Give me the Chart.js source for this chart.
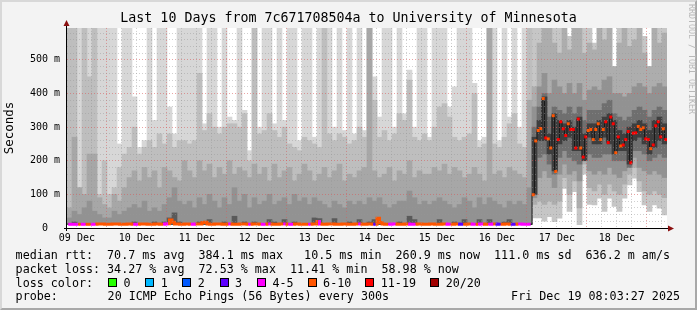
<!DOCTYPE html>
<html>
<head>
<meta charset="utf-8">
<script src="https://cdn.jsdelivr.net/npm/chart.js@4/dist/chart.umd.min.js"></script>
<style>
html,body{margin:0;padding:0;}
body{width:697px;height:310px;overflow:hidden;background:#f3f3f3;position:relative;font-family:'DejaVu Sans Mono',monospace;}
#c{position:absolute;left:0;top:0;}
#frame{position:absolute;left:0;top:0;width:697px;height:310px;box-sizing:border-box;border-style:solid;border-width:2px;border-color:#d8d8d8 #a8a8a8 #a8a8a8 #d8d8d8;pointer-events:none;}
.t{position:absolute;white-space:pre;font-size:11.7px;line-height:14px;color:#000;}
.box{position:absolute;width:7px;height:7px;border:1px solid #000;}
#rrd{position:absolute;left:687px;top:4px;writing-mode:vertical-rl;font-size:8.3px;line-height:9px;color:#b8b8b8;white-space:pre;}
</style>
</head>
<body>
<canvas id="c" width="697" height="310"></canvas>
<div id="frame"></div>
<div id="legend"></div>
<div id="rrd">RRDTOOL / TOBI OETIKER</div>
<script>
// ---------------- data ----------------
const chartTitle = 'Last 10 Days from 7c671708504a to University of Minnesota';
const dayLabels = ['09 Dec','10 Dec','11 Dec','12 Dec','13 Dec','14 Dec','15 Dec','16 Dec','17 Dec','18 Dec'];
const yTickValues = [0, 0.1, 0.2, 0.3, 0.4, 0.5];
const yTickLabels = ['0  ', '100 m', '200 m', '300 m', '400 m', '500 m'];

// smoke bands (seconds), one value per 2-hour column, lightest band A .. darkest band E
const smokeTopA = [
0.6,0.6,0.6,0.6,0.6,0.6,0.6,0.6,0.6,0.6,0.25,0.6,
0.6,0.39,0.24,0.26,0.6,0.32,0.6,0.6,0.36,0.28,0.6,0.6,
0.6,0.6,0.6,0.31,0.6,0.6,0.30,0.6,0.33,0.32,0.6,0.35,
0.23,0.6,0.30,0.6,0.6,0.31,0.6,0.32,0.6,0.6,0.26,0.6,
0.6,0.27,0.6,0.6,0.6,0.30,0.6,0.29,0.6,0.28,0.6,0.29,
0.6,0.45,0.33,0.6,0.6,0.30,0.6,0.34,0.47,0.30,0.6,0.6,
0.27,0.6,0.6,0.6,0.36,0.42,0.6,0.6,0.6,0.43,0.26,0.27,
0.6,0.6,0.26,0.6,0.33,0.6,0.30,0.6,0.6,0.6,0.6,0.6,
0.6,0.6,0.6,0.58,0.57,0.6,0.6,0.6,0.6,0.55,0.6,0.6,
0.6,0.48,0.6,0.6,0.6,0.6,0.6,0.57,0.48,0.6,0.6,0.6];
const smokeTopB = [
0.6,0.6,0.12,0.6,0.45,0.6,0.10,0.20,0.10,0.12,0.18,0.22,
0.24,0.30,0.22,0.24,0.26,0.24,0.28,0.25,0.28,0.24,0.26,0.26,
0.25,0.26,0.46,0.29,0.34,0.30,0.28,0.30,0.31,0.31,0.30,0.34,
0.20,0.6,0.28,0.29,0.34,0.29,0.27,0.30,0.25,0.24,0.23,0.27,
0.26,0.25,0.24,0.6,0.28,0.26,0.28,0.27,0.25,0.26,0.30,0.27,
0.6,0.38,0.27,0.29,0.26,0.28,0.34,0.32,0.44,0.27,0.26,0.28,
0.26,0.30,0.36,0.37,0.33,0.27,0.26,0.27,0.28,0.40,0.24,0.25,
0.6,0.25,0.24,0.27,0.31,0.34,0.25,0.24,0.6,0.42,0.55,0.6,
0.6,0.55,0.52,0.6,0.53,0.6,0.6,0.52,0.55,0.53,0.6,0.56,
0.6,0.48,0.55,0.6,0.54,0.56,0.6,0.52,0.48,0.6,0.55,0.58];
const smokeTopC = [
0.06,0.27,0.12,0.10,0.22,0.22,0.09,0.07,0.06,0.10,0.08,0.12,
0.15,0.17,0.14,0.18,0.15,0.17,0.12,0.18,0.17,0.15,0.14,0.20,
0.17,0.15,0.20,0.17,0.19,0.15,0.18,0.16,0.20,0.16,0.18,0.17,
0.15,0.19,0.16,0.18,0.14,0.19,0.15,0.17,0.18,0.14,0.16,0.19,
0.17,0.14,0.16,0.18,0.15,0.17,0.19,0.14,0.16,0.15,0.17,0.18,
0.6,0.17,0.15,0.16,0.18,0.14,0.17,0.16,0.20,0.15,0.17,0.16,
0.16,0.18,0.17,0.19,0.16,0.18,0.17,0.15,0.16,0.18,0.16,0.14,
0.6,0.16,0.17,0.15,0.18,0.17,0.16,0.15,0.38,0.36,0.42,0.46,
0.40,0.44,0.42,0.40,0.43,0.40,0.43,0.38,0.41,0.42,0.41,0.44,
0.45,0.40,0.40,0.39,0.40,0.42,0.43,0.42,0.40,0.42,0.43,0.42];
const smokeTopD = [
0.03,0.05,0.04,0.06,0.08,0.05,0.04,0.03,0.03,0.05,0.04,0.05,
0.06,0.07,0.06,0.08,0.05,0.06,0.05,0.07,0.09,0.12,0.08,0.07,
0.08,0.06,0.09,0.07,0.10,0.08,0.06,0.09,0.07,0.12,0.08,0.10,
0.06,0.09,0.07,0.08,0.10,0.07,0.08,0.09,0.07,0.10,0.08,0.09,
0.07,0.09,0.08,0.07,0.06,0.08,0.07,0.06,0.08,0.07,0.08,0.07,
0.09,0.08,0.09,0.07,0.06,0.07,0.08,0.08,0.11,0.09,0.07,0.08,
0.07,0.08,0.09,0.08,0.07,0.06,0.07,0.09,0.08,0.06,0.09,0.07,
0.09,0.08,0.07,0.06,0.08,0.07,0.08,0.07,0.12,0.30,0.36,0.40,
0.33,0.36,0.35,0.34,0.36,0.34,0.36,0.32,0.35,0.35,0.35,0.37,
0.38,0.34,0.33,0.32,0.33,0.35,0.36,0.35,0.33,0.35,0.36,0.35];
const smokeTopE = [
0.013,0.018,0.013,0.013,0.013,0.013,0.013,0.013,0.013,0.013,0.013,0.013,
0.013,0.018,0.013,0.013,0.013,0.018,0.013,0.018,0.03,0.045,0.018,0.013,
0.013,0.013,0.018,0.013,0.025,0.013,0.013,0.018,0.013,0.035,0.013,0.018,
0.013,0.018,0.013,0.013,0.025,0.018,0.013,0.025,0.013,0.018,0.013,0.013,
0.013,0.03,0.028,0.013,0.013,0.028,0.013,0.013,0.018,0.013,0.025,0.013,
0.018,0.025,0.018,0.013,0.013,0.013,0.018,0.013,0.035,0.025,0.013,0.013,
0.013,0.013,0.025,0.013,0.013,0.018,0.013,0.025,0.013,0.013,0.025,0.013,
0.025,0.013,0.013,0.018,0.025,0.013,0.013,0.013,0.013,0.27,0.32,0.39,
0.28,0.34,0.32,0.31,0.32,0.30,0.33,0.28,0.31,0.31,0.32,0.33,
0.34,0.32,0.29,0.28,0.30,0.31,0.32,0.31,0.29,0.32,0.33,0.31];
const smokeBotA = [
0.01,0.01,0.01,0.01,0.01,0.01,0.01,0.01,0.01,0.01,0.01,0.01,
0.01,0.01,0.01,0.01,0.01,0.01,0.01,0.01,0.01,0.01,0.01,0.01,
0.01,0.01,0.01,0.01,0.01,0.01,0.01,0.01,0.01,0.01,0.01,0.01,
0.01,0.01,0.01,0.01,0.01,0.01,0.01,0.01,0.01,0.01,0.01,0.01,
0.01,0.01,0.01,0.01,0.01,0.01,0.01,0.01,0.01,0.01,0.01,0.01,
0.01,0.01,0.01,0.01,0.01,0.01,0.01,0.01,0.01,0.01,0.01,0.01,
0.01,0.01,0.01,0.01,0.01,0.01,0.01,0.01,0.01,0.01,0.01,0.01,
0.01,0.01,0.01,0.01,0.01,0.01,0.01,0.01,0.01,0.03,0.03,0.02,
0.034,0.019,0.029,0.118,0.049,0.108,0.01,0.16,0.07,0.069,0.089,0.049,
0.089,0.064,0.049,0.089,0.128,0.148,0.108,0.069,0.049,0.069,0.059,0.039];
const smokeBotB = [
0.01,0.01,0.01,0.01,0.01,0.01,0.01,0.01,0.01,0.01,0.01,0.01,
0.01,0.01,0.01,0.01,0.01,0.01,0.01,0.01,0.01,0.01,0.01,0.01,
0.01,0.01,0.01,0.01,0.01,0.01,0.01,0.01,0.01,0.01,0.01,0.01,
0.01,0.01,0.01,0.01,0.01,0.01,0.01,0.01,0.01,0.01,0.01,0.01,
0.01,0.01,0.01,0.01,0.01,0.01,0.01,0.01,0.01,0.01,0.01,0.01,
0.01,0.01,0.01,0.01,0.01,0.01,0.01,0.01,0.01,0.01,0.01,0.01,
0.01,0.01,0.01,0.01,0.01,0.01,0.01,0.01,0.01,0.01,0.01,0.01,
0.01,0.01,0.01,0.01,0.01,0.01,0.01,0.01,0.01,0.07,0.08,0.07,
0.08,0.07,0.08,0.15,0.10,0.14,0.06,0.19,0.12,0.11,0.13,0.10,
0.13,0.11,0.10,0.13,0.16,0.18,0.14,0.11,0.10,0.11,0.10,0.09];
const smokeBotC = [
0.01,0.01,0.01,0.01,0.01,0.01,0.01,0.01,0.01,0.01,0.01,0.01,
0.01,0.01,0.01,0.01,0.01,0.01,0.01,0.01,0.01,0.01,0.01,0.01,
0.01,0.01,0.01,0.01,0.01,0.01,0.01,0.01,0.01,0.01,0.01,0.01,
0.01,0.01,0.01,0.01,0.01,0.01,0.01,0.01,0.01,0.01,0.01,0.01,
0.01,0.01,0.01,0.01,0.01,0.01,0.01,0.01,0.01,0.01,0.01,0.01,
0.01,0.01,0.01,0.01,0.01,0.01,0.01,0.01,0.01,0.01,0.01,0.01,
0.01,0.01,0.01,0.01,0.01,0.01,0.01,0.01,0.01,0.01,0.01,0.01,
0.01,0.01,0.01,0.01,0.01,0.01,0.01,0.01,0.01,0.09,0.15,0.17,
0.15,0.12,0.16,0.19,0.16,0.17,0.14,0.21,0.17,0.16,0.17,0.16,
0.18,0.16,0.15,0.17,0.19,0.21,0.18,0.17,0.16,0.17,0.16,0.15];
const smokeBotD = [
0.01,0.01,0.01,0.01,0.01,0.01,0.01,0.01,0.01,0.01,0.01,0.01,
0.01,0.01,0.01,0.01,0.01,0.01,0.01,0.01,0.01,0.01,0.01,0.01,
0.01,0.01,0.01,0.01,0.01,0.01,0.01,0.01,0.01,0.01,0.01,0.01,
0.01,0.01,0.01,0.01,0.01,0.01,0.01,0.01,0.01,0.01,0.01,0.01,
0.01,0.01,0.01,0.01,0.01,0.01,0.01,0.01,0.01,0.01,0.01,0.01,
0.01,0.01,0.01,0.01,0.01,0.01,0.01,0.01,0.01,0.01,0.01,0.01,
0.01,0.01,0.01,0.01,0.01,0.01,0.01,0.01,0.01,0.01,0.01,0.01,
0.01,0.01,0.01,0.01,0.01,0.01,0.01,0.01,0.01,0.10,0.21,0.22,
0.19,0.16,0.21,0.23,0.21,0.20,0.19,0.21,0.22,0.21,0.21,0.22,
0.22,0.20,0.20,0.20,0.18,0.23,0.23,0.22,0.20,0.21,0.22,0.21];
const smokeBotE = [
0.01,0.01,0.01,0.01,0.01,0.01,0.01,0.01,0.01,0.01,0.01,0.01,
0.01,0.01,0.01,0.01,0.01,0.01,0.01,0.01,0.01,0.01,0.01,0.01,
0.01,0.01,0.01,0.01,0.01,0.01,0.01,0.01,0.01,0.01,0.01,0.01,
0.01,0.01,0.01,0.01,0.01,0.01,0.01,0.01,0.01,0.01,0.01,0.01,
0.01,0.01,0.01,0.01,0.01,0.01,0.01,0.01,0.01,0.01,0.01,0.01,
0.01,0.01,0.01,0.01,0.01,0.01,0.01,0.01,0.01,0.01,0.01,0.01,
0.01,0.01,0.01,0.01,0.01,0.01,0.01,0.01,0.01,0.01,0.01,0.01,
0.01,0.01,0.01,0.01,0.01,0.01,0.01,0.01,0.01,0.10,0.26,0.26,
0.22,0.17,0.25,0.26,0.27,0.23,0.23,0.20,0.27,0.25,0.25,0.27,
0.25,0.22,0.23,0.23,0.19,0.26,0.27,0.25,0.22,0.24,0.26,0.25];

// median rtt (seconds), one value per hour
const medianRtt = [
0.011,0.011,0.011,0.011,0.011,0.011,0.011,0.011,0.011,0.011,0.011,0.011,0.012,0.012,0.012,0.011,0.011,0.011,0.012,0.012,0.012,0.011,0.011,0.011,
0.012,0.012,0.011,0.011,0.011,0.012,0.012,0.012,0.011,0.011,0.011,0.012,0.012,0.011,0.011,0.012,0.013,0.024,0.017,0.012,0.012,0.011,0.011,0.012,
0.012,0.011,0.011,0.012,0.012,0.012,0.016,0.017,0.012,0.011,0.011,0.012,0.012,0.012,0.011,0.011,0.012,0.012,0.011,0.011,0.011,0.012,0.012,0.012,
0.011,0.011,0.012,0.012,0.012,0.011,0.011,0.011,0.012,0.012,0.011,0.011,0.011,0.012,0.012,0.012,0.011,0.011,0.011,0.012,0.012,0.011,0.011,0.011,
0.011,0.011,0.012,0.012,0.019,0.012,0.011,0.011,0.012,0.012,0.012,0.011,0.011,0.011,0.012,0.012,0.011,0.011,0.011,0.012,0.012,0.012,0.011,0.011,
0.012,0.012,0.011,0.011,0.029,0.016,0.012,0.011,0.011,0.011,0.012,0.012,0.011,0.011,0.011,0.012,0.012,0.011,0.011,0.011,0.012,0.012,0.011,0.011,
0.011,0.012,0.012,0.011,0.011,0.011,0.012,0.012,0.011,0.011,0.011,0.012,0.012,0.011,0.011,0.011,0.012,0.012,0.011,0.011,0.011,0.012,0.012,0.011,
0.011,0.011,0.012,0.012,0.011,0.011,0.011,0.012,0.012,0.011,0.011,0.011,0.012,0.012,0.011,0.011,0.011,0.011,0.099,0.259,0.290,0.296,0.385,0.268,
0.265,0.238,0.334,0.168,0.263,0.316,0.295,0.275,0.310,0.293,0.293,0.238,0.324,0.238,0.211,0.271,0.290,0.293,0.263,0.293,0.310,0.263,0.293,0.316,
0.254,0.330,0.310,0.224,0.271,0.244,0.247,0.263,0.287,0.194,0.282,0.283,0.302,0.293,0.298,0.265,0.263,0.236,0.247,0.304,0.316,0.271,0.295,0.263];

// lost pings out of 20, one value per hour
const lostPings = [
5,5,5,5,7,5,5,7,7,5,5,7,7,7,7,7,7,7,7,7,7,7,7,7,
7,7,5,5,7,7,7,7,7,7,7,7,7,7,5,5,7,7,7,7,7,7,7,7,
7,5,5,7,7,7,7,7,7,7,7,7,7,7,7,7,5,7,7,7,7,7,7,7,
5,7,7,7,7,5,5,7,5,7,7,7,7,7,5,7,5,5,7,7,7,7,7,7,
5,7,7,7,5,7,7,7,7,7,7,7,7,7,7,7,7,7,7,7,5,7,7,7,
7,7,3,7,7,7,7,7,5,5,5,7,7,7,7,7,5,5,5,7,7,7,7,7,
7,7,7,7,7,7,7,5,5,7,7,7,3,3,7,7,7,5,5,7,5,5,7,7,
5,5,7,3,3,7,7,7,7,3,3,7,5,5,5,5,5,7,8,8,8,8,8,12,
8,8,8,8,12,12,12,12,8,12,12,12,12,8,12,12,8,8,8,8,8,8,8,12,
12,12,12,8,12,8,12,12,12,12,12,12,8,8,8,12,12,8,12,12,12,12,8,12];

const lossLegendLabels = ['0','1','2','3','4-5','6-10','11-19','20/20'];
const statsRtt = ['median rtt:', '70.7', '384.1', '10.5', '260.9', '111.0', '636.2'];
const statsLoss = ['packet loss:', '34.27', '72.53', '11.41', '58.98'];
const probeText = '20 ICMP Echo Pings (56 Bytes) every 300s';
const stampText = 'Fri Dec 19 08:03:27 2025';

// ---------------- helpers / styles ----------------
const START_HOUR = 8 + 3/60;      // graph starts Dec 9 08:03
const SPAN_HOURS = 240;
const COL_HOURS = 2;
const Y_MAX = 0.595;
const FONT = "'DejaVu Sans Mono', monospace";
const lossColors = ['#26ff00','#00b8ff','#0059ff','#5e00ff','#ff00ff','#ff5500','#ff0000','#a10000'];
function lossClass(n){ if(n<=3) return n; if(n<=5) return 4; if(n<=10) return 5; if(n<=19) return 6; return 7; }
function lossColor(n){ return lossColors[lossClass(n)]; }

const noonOffset = 12 - START_HOUR;
const midnightOffset = 24 - START_HOUR;
const xGridHours = [];
for (let h = noonOffset % 6; h < SPAN_HOURS; h += 6) xGridHours.push(h);
const isMidnight = h => Math.abs(((h - midnightOffset) % 24 + 24) % 24) < 0.01;
const noonIndex = h => { const k = (h - noonOffset) / 24; return Math.abs(k - Math.round(k)) < 0.01 ? Math.round(k) : -1; };
const yGrid = [];
for (let k = 0; k * 0.02 < Y_MAX; k++) yGrid.push(+(k * 0.02).toFixed(2));
const yLabelIndex = v => yTickValues.findIndex(t => Math.abs(t - v) < 1e-6);

// smoke shading: fewer surviving pings -> darker bands
const lightBands = ['#d7d7d7','#bebebe','#a7a7a7','#929292','#5a5a5a'];
const darkBands  = ['#c6c6c6','#adadad','#929292','#6f6f6f','#3e3e3e'];
const tops = [smokeTopA, smokeTopB, smokeTopC, smokeTopD, smokeTopE];
const bots = [smokeBotA, smokeBotB, smokeBotC, smokeBotD, smokeBotE];

const datasets = [];
const SPLIT = 185;
datasets.push({
  type:'line', order:0, clip:0, yAxisID:'y',
  data: medianRtt.slice(SPLIT).map((v,k)=>({x: SPLIT + k + 0.5, y: v})),
  stepped:'middle', borderColor:'#1a1a1a', borderWidth:1,
  pointStyle:'rect', pointRadius: c => c.dataIndex === 0 ? 0 : 2.1, pointBorderWidth:0,
  pointBackgroundColor: c => lossColor(lostPings[SPLIT + c.dataIndex])
});
datasets.push({
  type:'line', order:1, clip:0, yAxisID:'y',
  data: medianRtt.slice(0, SPLIT + 1).map((v,i)=>({x: i + 0.5, y: v})),
  stepped:'middle', borderWidth:3, borderCapStyle:'butt', pointRadius:0,
  borderColor: lossColor(7),
  segment:{ borderColor: c => lossColor(lostPings[c.p0DataIndex]) }
});
for (let b = 4; b >= 0; b--) {
  datasets.push({
    type:'bar', order: 2 + (4 - b), clip:0, yAxisID:'y',
    data: tops[b].map((t,i)=>({x: COL_HOURS*i + COL_HOURS/2, y:[bots[b][i], t]})),
    backgroundColor: c => (lostPings[c.dataIndex * COL_HOURS] >= 8 ? darkBands : lightBands)[b],
    borderWidth:0, barPercentage:1, categoryPercentage:1, grouped:false
  });
}

const axisPlugin = {
  id:'rrdAxes',
  afterDraw(chart){
    const {ctx, chartArea:a} = chart;
    ctx.save();
    ctx.strokeStyle = '#000'; ctx.lineWidth = 1;
    ctx.beginPath(); ctx.moveTo(a.left - 3, a.bottom + 0.5); ctx.lineTo(a.right + 2, a.bottom + 0.5); ctx.stroke();
    ctx.beginPath(); ctx.moveTo(a.left - 0.5, a.bottom + 3); ctx.lineTo(a.left - 0.5, a.top - 3); ctx.stroke();
    ctx.fillStyle = '#8b1010';
    ctx.beginPath(); ctx.moveTo(a.right + 1, a.bottom - 2.5); ctx.lineTo(a.right + 7, a.bottom + 0.5); ctx.lineTo(a.right + 1, a.bottom + 3.5); ctx.closePath(); ctx.fill();
    ctx.beginPath(); ctx.moveTo(a.left - 3.5, a.top - 2); ctx.lineTo(a.left - 0.5, a.top - 8); ctx.lineTo(a.left + 2.5, a.top - 2); ctx.closePath(); ctx.fill();
    ctx.restore();
  }
};
const bgPlugin = {
  id:'plotBg',
  beforeDraw(chart){
    const {ctx, chartArea:a} = chart;
    ctx.save(); ctx.fillStyle = '#ffffff';
    ctx.fillRect(a.left, a.top, a.right - a.left, a.bottom - a.top);
    ctx.restore();
  }
};

Chart.defaults.font.family = FONT;
Chart.defaults.color = '#000';

new Chart(document.getElementById('c'), {
  type:'bar',
  data:{ datasets },
  plugins:[bgPlugin, axisPlugin],
  options:{
    responsive:false, animation:false, maintainAspectRatio:false,
    layout:{ padding:{ left:0, right:0, top:0, bottom:0 } },
    plugins:{
      legend:{ display:false }, tooltip:{ enabled:false },
      title:{ display:true, text: chartTitle, color:'#000', font:{ family:FONT, size:13.3, weight:'normal' }, padding:{ top:11, bottom:1 } }
    },
    scales:{
      x:{
        type:'linear', min:0, max:SPAN_HOURS, offset:false, z:1,
        afterBuildTicks(s){ s.ticks = xGridHours.map(v=>({value:v})); },
        afterFit(s){ s.height = 82; },
        grid:{ offset:false, z:1, drawTicks:false, lineWidth:1,
          color: c => isMidnight(c.tick.value) ? 'rgba(215,90,90,0.55)' : 'rgba(150,150,150,0.45)' },
        border:{ display:false, dash:[1,2] },
        ticks:{ z:1, autoSkip:false, maxRotation:0, minRotation:0, padding:4, color:'#000',
          font:{ family:FONT, size:10 },
          callback: v => { const k = noonIndex(v); return k >= 0 && k < dayLabels.length ? dayLabels[k] : ''; } }
      },
      y:{
        type:'linear', position:'left', min:0, max:Y_MAX, z:1,
        afterBuildTicks(s){ s.ticks = yGrid.map(v=>({value:v})); },
        afterFit(s){ s.width = 67; },
        grid:{ z:1, drawTicks:false, lineWidth:1,
          color: c => { const v = c.tick.value; if (v < 1e-6) return 'rgba(0,0,0,0)'; return yLabelIndex(v) >= 0 ? 'rgba(215,90,90,0.55)' : 'rgba(150,150,150,0.45)'; } },
        border:{ display:false, dash:[1,2] },
        ticks:{ z:1, autoSkip:false, padding:7, color:'#000', font:{ family:FONT, size:10 },
          callback: v => { const k = yLabelIndex(v); return k >= 0 ? yTickLabels[k] : ''; } },
        title:{ display:true, text:'Seconds', color:'#000', font:{ family:FONT, size:12.5 }, padding:{ top:2, bottom:0 } }
      },
      yRight:{
        type:'linear', position:'right', min:0, max:1, display:true,
        afterFit(s){ s.width = 30; },
        grid:{ display:false, drawOnChartArea:false, drawTicks:false },
        border:{ display:false },
        ticks:{ display:false }
      }
    }
  }
});

// ---------------- legend text (HTML) ----------------
const L = document.getElementById('legend');
function addText(txt, left, top, right){
  const d = document.createElement('div'); d.className = 't'; d.textContent = txt;
  d.style.top = top + 'px';
  if (right !== undefined) d.style.right = right + 'px'; else d.style.left = left + 'px';
  L.appendChild(d);
}
const pad5 = s => s.padStart(5, ' ');
addText(`${statsRtt[0]} ${pad5(statsRtt[1])} ms avg  ${pad5(statsRtt[2])} ms max  ${pad5(statsRtt[3])} ms min  ${pad5(statsRtt[4])} ms now  ${pad5(statsRtt[5])} ms sd  ${pad5(statsRtt[6])} m am/s`, 15.6, 248);
addText(`${statsLoss[0]} ${statsLoss[1]} % avg  ${statsLoss[2]} % max  ${statsLoss[3]} % min  ${statsLoss[4]} % now`, 15.6, 261.5);
addText('loss color:', 15.6, 275.5);
const boxX = [108, 145.3, 182.2, 219.6, 256.9, 307.6, 365.3, 430.2];
lossLegendLabels.forEach((lab, i) => {
  const b = document.createElement('div'); b.className = 'box';
  b.style.left = boxX[i] + 'px'; b.style.top = '278px'; b.style.background = lossColors[i];
  L.appendChild(b);
  addText(lab, boxX[i] + 15.5, 275.5);
});
addText('probe:', 15.6, 289);
addText(probeText, 107.6, 289);
addText(stampText, 0, 289, 17);
</script>
</body>
</html>
